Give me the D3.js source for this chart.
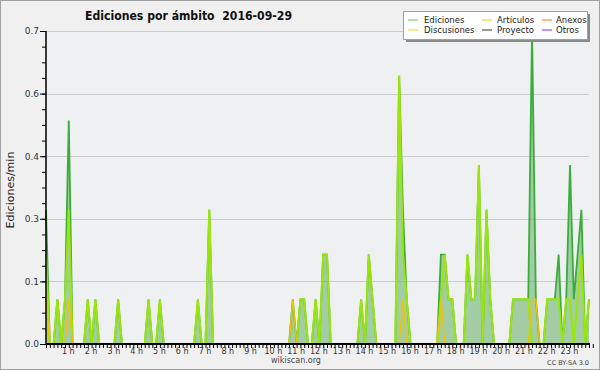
<!DOCTYPE html>
<html>
<head>
<meta charset="utf-8">
<script src="https://cdn.jsdelivr.net/npm/d3@7"></script>
<style>
  body { margin: 0; background: #f0f0f0; }
  svg { display: block; }
</style>
</head>
<body>
<script>
// Chart texts
const titleText = "Ediciones por ámbito  2016-09-29";
const yLabel = "Ediciones/min";
const sourceText = "wikiscan.org";
const licenseText = "CC BY-SA 3.0";

// One value per 10 minute slot (00:00 .. 23:50), edits per minute
const ediciones = [
  0.3, 0, 0, 0.1, 0, 0.1,   0.5, 0, 0, 0, 0, 0.1,
  0, 0.1, 0, 0, 0, 0,       0, 0.1, 0, 0, 0, 0,
  0, 0, 0, 0.1, 0, 0,       0.1, 0, 0, 0, 0, 0,
  0, 0, 0, 0, 0.1, 0,       0, 0.3, 0, 0, 0, 0,
  0, 0, 0, 0, 0, 0,         0, 0, 0, 0, 0, 0,
  0, 0, 0, 0, 0, 0.1,       0, 0.1, 0.1, 0, 0, 0.1,
  0, 0.2, 0.2, 0, 0, 0,     0, 0, 0, 0, 0, 0.1,
  0, 0.2, 0.1, 0, 0, 0,     0, 0, 0, 0.6, 0.3, 0.1,
  0, 0, 0, 0, 0, 0,         0, 0, 0.2, 0.2, 0.1, 0.1,
  0, 0, 0, 0.2, 0.1, 0.1,   0.4, 0, 0.3, 0.1, 0, 0,
  0, 0, 0, 0.1, 0.1, 0.1,   0.1, 0.1, 0.7, 0.1, 0, 0,
  0.1, 0.1, 0.1, 0.2, 0, 0.1, 0.4, 0.1, 0.2, 0.3, 0, 0.1
];
const articulos = [
  0.2, 0, 0, 0.1, 0, 0.1,   0.3, 0, 0, 0, 0, 0.1,
  0, 0.1, 0, 0, 0, 0,       0, 0.1, 0, 0, 0, 0,
  0, 0, 0, 0.1, 0, 0,       0.1, 0, 0, 0, 0, 0,
  0, 0, 0, 0, 0.1, 0,       0, 0.3, 0, 0, 0, 0,
  0, 0, 0, 0, 0, 0,         0, 0, 0, 0, 0, 0,
  0, 0, 0, 0, 0, 0,         0, 0.1, 0.1, 0, 0, 0.1,
  0, 0.2, 0.2, 0, 0, 0,     0, 0, 0, 0, 0, 0.1,
  0, 0.2, 0.1, 0, 0, 0,     0, 0, 0, 0.6, 0.2, 0.1,
  0, 0, 0, 0, 0, 0,         0, 0, 0.1, 0.2, 0.1, 0.1,
  0, 0, 0, 0.2, 0.1, 0.1,   0.4, 0, 0.3, 0.1, 0, 0,
  0, 0, 0, 0.1, 0.1, 0.1,   0.1, 0.1, 0, 0, 0, 0,
  0.1, 0.1, 0.1, 0.1, 0, 0.1, 0.1, 0, 0.1, 0.2, 0, 0.1
];
const discusiones = [
  0.1, 0, 0, 0, 0, 0,       0.1, 0, 0, 0, 0, 0,
  0, 0, 0, 0, 0, 0,         0, 0, 0, 0, 0, 0,
  0, 0, 0, 0, 0, 0,         0, 0, 0, 0, 0, 0,
  0, 0, 0, 0, 0, 0,         0, 0, 0, 0, 0, 0,
  0, 0, 0, 0, 0, 0,         0, 0, 0, 0, 0, 0,
  0, 0, 0, 0, 0, 0.1,       0, 0, 0, 0, 0, 0,
  0, 0, 0, 0, 0, 0,         0, 0, 0, 0, 0, 0,
  0, 0, 0, 0, 0, 0,         0, 0, 0, 0, 0.1, 0,
  0, 0, 0, 0, 0, 0,         0, 0, 0.1, 0, 0, 0,
  0, 0, 0, 0, 0, 0,         0, 0, 0, 0, 0, 0,
  0, 0, 0, 0, 0, 0,         0, 0, 0.1, 0.1, 0, 0,
  0, 0, 0, 0, 0, 0,         0, 0, 0, 0, 0, 0
];

const hourLabels = ["1 h", "2 h", "3 h", "4 h", "5 h", "6 h", "7 h", "8 h", "9 h", "10 h", "11 h", "12 h",
  "13 h", "14 h", "15 h", "16 h", "17 h", "18 h", "19 h", "20 h", "21 h", "22 h", "23 h"];
const yTicks = [0, 0.14, 0.28, 0.42, 0.56, 0.7];

// legend: 3 columns x 2 rows, in reading order
const legendNames = ["Ediciones", "Artículos", "Anexos", "Discusiones", "Proyecto", "Otros"];
const legendColors = ["#7ccf7c", "#c4ee3c", "#ff8844", "#ffd23c", "#555555", "#9a4cff"];

const width = 600, height = 370;
const margin = {top: 31, right: 11, bottom: 26, left: 46};

const svg = d3.select("body").append("svg")
  .attr("width", width)
  .attr("height", height)
  .attr("font-family", "DejaVu Sans, Verdana, sans-serif");

svg.append("rect")
  .attr("x", 0.5).attr("y", 0.5)
  .attr("width", width - 1).attr("height", height - 1)
  .attr("fill", "#f0f0f0")
  .attr("stroke", "#a0a0a0");

const x = d3.scaleLinear()
  .domain([0, ediciones.length - 1])
  .range([margin.left, width - margin.right]);

const y = d3.scaleLinear()
  .domain([0, 0.7])
  .range([height - margin.bottom, margin.top]);

// plot background
svg.append("rect")
  .attr("x", x.range()[0]).attr("y", y(0.7))
  .attr("width", x.range()[1] - x.range()[0])
  .attr("height", y(0) - y(0.7))
  .attr("fill", "#eef0f2");

// grid
svg.append("g")
  .selectAll("line")
  .data(yTicks.slice(1))
  .join("line")
  .attr("x1", x.range()[0]).attr("x2", x.range()[1])
  .attr("y1", d => Math.round(y(d)) + 0.5)
  .attr("y2", d => Math.round(y(d)) + 0.5)
  .attr("stroke", "#cccccc");

const area = d3.area()
  .x((d, i) => x(i))
  .y0(y(0))
  .y1(d => y(d));

const line = d3.line()
  .x((d, i) => x(i))
  .y(d => y(d));

svg.append("path")
  .datum(ediciones)
  .attr("d", area)
  .attr("fill", "#55aa55")
  .attr("fill-opacity", 0.5);

svg.append("path")
  .datum(ediciones)
  .attr("d", line)
  .attr("fill", "none")
  .attr("stroke", "#3aac3a")
  .attr("stroke-width", 1.8);

svg.append("path")
  .datum(articulos)
  .attr("d", line)
  .attr("fill", "none")
  .attr("stroke", "#9be60a")
  .attr("stroke-width", 2);

svg.append("path")
  .datum(discusiones)
  .attr("d", line)
  .attr("fill", "none")
  .attr("stroke", "#f2c200")
  .attr("stroke-width", 1.5);

// x axis: a tick every 10 minutes, labels every hour
const xMinor = svg.append("g")
  .attr("transform", `translate(0,${y(0)})`)
  .call(d3.axisBottom(x)
    .tickValues(d3.range(0, ediciones.length + 1))
    .tickSize(4)
    .tickFormat(""));
xMinor.select(".domain").remove();
xMinor.selectAll("line").attr("stroke", "#000");

const xLab = svg.append("g")
  .attr("transform", `translate(-1,${y(0)})`)
  .call(d3.axisBottom(x)
    .tickValues(hourLabels.map((d, k) => (k + 1) * 6))
    .tickSize(0)
    .tickPadding(4)
    .tickFormat((d, k) => hourLabels[k]));
xLab.select(".domain").remove();
xLab.selectAll("text")
  .attr("font-family", "DejaVu Sans, sans-serif")
  .attr("font-size", 8)
  .attr("fill", "#333");

// y axis
const yMinor = svg.append("g")
  .attr("transform", `translate(${x.range()[0]},0)`)
  .call(d3.axisLeft(y)
    .tickValues(d3.range(0, 0.7001, 0.035))
    .tickSize(4)
    .tickFormat(""));
yMinor.select(".domain").remove();
yMinor.selectAll("line").attr("stroke", "#000");

const yMajor = svg.append("g")
  .attr("transform", `translate(${x.range()[0]},0)`)
  .call(d3.axisLeft(y)
    .tickValues(yTicks)
    .tickSize(6)
    .tickPadding(1)
    .tickFormat(d3.format(".1f")));
yMajor.select(".domain").remove();
yMajor.selectAll("line").attr("stroke", "#000");
yMajor.selectAll("text")
  .attr("font-family", "DejaVu Sans, sans-serif")
  .attr("font-size", 9)
  .attr("fill", "#333");

// axis lines
svg.append("line")
  .attr("x1", x.range()[0]).attr("x2", x.range()[1] + 1)
  .attr("y1", y(0)).attr("y2", y(0))
  .attr("stroke", "#000").attr("stroke-width", 2);
svg.append("line")
  .attr("x1", x.range()[0]).attr("x2", x.range()[0])
  .attr("y1", y(0.7)).attr("y2", y(0) + 1)
  .attr("stroke", "#000").attr("stroke-width", 1.5);

// title
svg.append("text")
  .attr("x", 85).attr("y", 20)
  .attr("font-size", 12.5)
  .attr("font-weight", "bold")
  .attr("fill", "#111")
  .attr("textLength", 207)
  .attr("lengthAdjust", "spacingAndGlyphs")
  .style("white-space", "pre")
  .text(titleText);

// y label
svg.append("text")
  .attr("transform", "translate(14,190) rotate(-90)")
  .attr("text-anchor", "middle")
  .attr("font-size", 11)
  .attr("fill", "#222")
  .text(yLabel);

svg.append("text")
  .attr("x", 296).attr("y", 363)
  .attr("text-anchor", "middle")
  .attr("font-size", 8)
  .attr("fill", "#444")
  .text(sourceText);

svg.append("text")
  .attr("x", 589).attr("y", 365)
  .attr("text-anchor", "end")
  .attr("font-size", 6.5)
  .attr("fill", "#444")
  .text(licenseText);

// legend
const legend = svg.append("g");
legend.append("rect")
  .attr("x", 406).attr("y", 14)
  .attr("width", 184).attr("height", 28)
  .attr("fill", "#8a8a8a");
legend.append("rect")
  .attr("x", 403.5).attr("y", 11.5)
  .attr("width", 184).attr("height", 28)
  .attr("fill", "#ffffff")
  .attr("stroke", "#a0a0a0");

const colX = [408, 482, 542];
const colText = [424, 497, 556];
const rowY = [20, 30];

const item = legend.selectAll("g.item")
  .data(legendNames)
  .join("g")
  .attr("class", "item")
  .attr("transform", (d, i) => `translate(0,${rowY[Math.floor(i / 3)]})`);

item.append("line")
  .attr("x1", (d, i) => colX[i % 3])
  .attr("x2", (d, i) => colX[i % 3] + 10)
  .attr("y1", 0).attr("y2", 0)
  .attr("stroke", (d, i) => legendColors[i])
  .attr("stroke-width", 1.2);

item.append("text")
  .attr("x", (d, i) => colText[i % 3])
  .attr("y", 3.2)
  .attr("font-size", 8.5)
  .attr("fill", "#222")
  .text(d => d);
</script>
</body>
</html>
